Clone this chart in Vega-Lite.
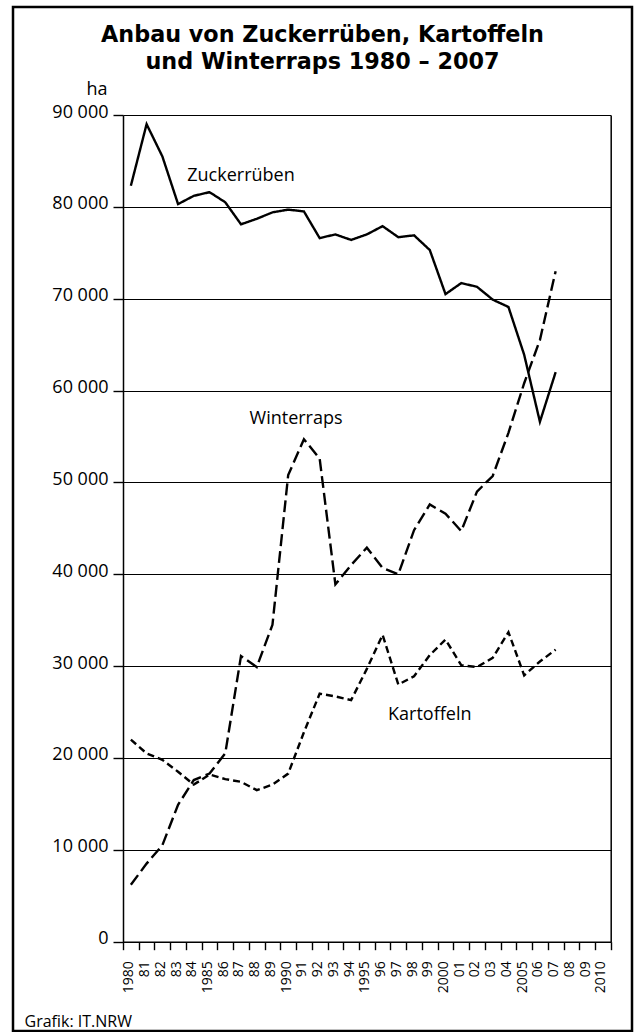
{
  "$schema": "https://vega.github.io/schema/vega-lite/v6.json",
  "width": 619,
  "height": 1024,
  "autosize": {"type": "none"},
  "padding": {"left": 13, "top": 7, "right": 3, "bottom": 1},
  "background": "white",
  "title": {
    "text": ["Anbau von Zuckerrüben, Kartoffeln", "und Winterraps 1980 – 2007"],
    "fontSize": 22.3,
    "fontWeight": "bold",
    "font": "DejaVu Sans",
    "lineHeight": 26.6,
    "anchor": "middle",
    "frame": "group",
    "offset": -66,
    "color": "black"
  },
  "datasets": {
    "crops": [
      {"year": 1980, "series": "Zuckerrüben", "ha": 82300},
      {"year": 1981, "series": "Zuckerrüben", "ha": 89000},
      {"year": 1982, "series": "Zuckerrüben", "ha": 85500},
      {"year": 1983, "series": "Zuckerrüben", "ha": 80300},
      {"year": 1984, "series": "Zuckerrüben", "ha": 81200},
      {"year": 1985, "series": "Zuckerrüben", "ha": 81600},
      {"year": 1986, "series": "Zuckerrüben", "ha": 80500},
      {"year": 1987, "series": "Zuckerrüben", "ha": 78100},
      {"year": 1988, "series": "Zuckerrüben", "ha": 78700},
      {"year": 1989, "series": "Zuckerrüben", "ha": 79400},
      {"year": 1990, "series": "Zuckerrüben", "ha": 79700},
      {"year": 1991, "series": "Zuckerrüben", "ha": 79500},
      {"year": 1992, "series": "Zuckerrüben", "ha": 76600},
      {"year": 1993, "series": "Zuckerrüben", "ha": 77000},
      {"year": 1994, "series": "Zuckerrüben", "ha": 76400},
      {"year": 1995, "series": "Zuckerrüben", "ha": 77000},
      {"year": 1996, "series": "Zuckerrüben", "ha": 77900},
      {"year": 1997, "series": "Zuckerrüben", "ha": 76700},
      {"year": 1998, "series": "Zuckerrüben", "ha": 76900},
      {"year": 1999, "series": "Zuckerrüben", "ha": 75300},
      {"year": 2000, "series": "Zuckerrüben", "ha": 70500},
      {"year": 2001, "series": "Zuckerrüben", "ha": 71700},
      {"year": 2002, "series": "Zuckerrüben", "ha": 71300},
      {"year": 2003, "series": "Zuckerrüben", "ha": 69900},
      {"year": 2004, "series": "Zuckerrüben", "ha": 69100},
      {"year": 2005, "series": "Zuckerrüben", "ha": 63900},
      {"year": 2006, "series": "Zuckerrüben", "ha": 56600},
      {"year": 2007, "series": "Zuckerrüben", "ha": 62000},
      {"year": 1980, "series": "Winterraps", "ha": 6200},
      {"year": 1981, "series": "Winterraps", "ha": 8500},
      {"year": 1982, "series": "Winterraps", "ha": 10500},
      {"year": 1983, "series": "Winterraps", "ha": 14900},
      {"year": 1984, "series": "Winterraps", "ha": 17600},
      {"year": 1985, "series": "Winterraps", "ha": 18300},
      {"year": 1986, "series": "Winterraps", "ha": 20500},
      {"year": 1987, "series": "Winterraps", "ha": 31100},
      {"year": 1988, "series": "Winterraps", "ha": 29900},
      {"year": 1989, "series": "Winterraps", "ha": 34500},
      {"year": 1990, "series": "Winterraps", "ha": 50800},
      {"year": 1991, "series": "Winterraps", "ha": 54700},
      {"year": 1992, "series": "Winterraps", "ha": 52600},
      {"year": 1993, "series": "Winterraps", "ha": 38900},
      {"year": 1994, "series": "Winterraps", "ha": 41000},
      {"year": 1995, "series": "Winterraps", "ha": 42900},
      {"year": 1996, "series": "Winterraps", "ha": 40700},
      {"year": 1997, "series": "Winterraps", "ha": 40000},
      {"year": 1998, "series": "Winterraps", "ha": 44800},
      {"year": 1999, "series": "Winterraps", "ha": 47600},
      {"year": 2000, "series": "Winterraps", "ha": 46600},
      {"year": 2001, "series": "Winterraps", "ha": 44700},
      {"year": 2002, "series": "Winterraps", "ha": 49000},
      {"year": 2003, "series": "Winterraps", "ha": 50700},
      {"year": 2004, "series": "Winterraps", "ha": 55400},
      {"year": 2005, "series": "Winterraps", "ha": 60800},
      {"year": 2006, "series": "Winterraps", "ha": 65500},
      {"year": 2007, "series": "Winterraps", "ha": 73000},
      {"year": 1980, "series": "Kartoffeln", "ha": 22000},
      {"year": 1981, "series": "Kartoffeln", "ha": 20500},
      {"year": 1982, "series": "Kartoffeln", "ha": 19800},
      {"year": 1983, "series": "Kartoffeln", "ha": 18500},
      {"year": 1984, "series": "Kartoffeln", "ha": 17100},
      {"year": 1985, "series": "Kartoffeln", "ha": 18200},
      {"year": 1986, "series": "Kartoffeln", "ha": 17700},
      {"year": 1987, "series": "Kartoffeln", "ha": 17400},
      {"year": 1988, "series": "Kartoffeln", "ha": 16500},
      {"year": 1989, "series": "Kartoffeln", "ha": 17100},
      {"year": 1990, "series": "Kartoffeln", "ha": 18300},
      {"year": 1991, "series": "Kartoffeln", "ha": 22800},
      {"year": 1992, "series": "Kartoffeln", "ha": 27000},
      {"year": 1993, "series": "Kartoffeln", "ha": 26700},
      {"year": 1994, "series": "Kartoffeln", "ha": 26300},
      {"year": 1995, "series": "Kartoffeln", "ha": 29700},
      {"year": 1996, "series": "Kartoffeln", "ha": 33400},
      {"year": 1997, "series": "Kartoffeln", "ha": 28000},
      {"year": 1998, "series": "Kartoffeln", "ha": 28900},
      {"year": 1999, "series": "Kartoffeln", "ha": 31200},
      {"year": 2000, "series": "Kartoffeln", "ha": 32900},
      {"year": 2001, "series": "Kartoffeln", "ha": 30100},
      {"year": 2002, "series": "Kartoffeln", "ha": 29900},
      {"year": 2003, "series": "Kartoffeln", "ha": 30900},
      {"year": 2004, "series": "Kartoffeln", "ha": 33700},
      {"year": 2005, "series": "Kartoffeln", "ha": 29000},
      {"year": 2006, "series": "Kartoffeln", "ha": 30500},
      {"year": 2007, "series": "Kartoffeln", "ha": 31800}
    ],
    "labels": [
      {"year": 1987, "ha": 82800, "label": "Zuckerrüben"},
      {"year": 1999, "ha": 24100, "label": "Kartoffeln"},
      {"year": 1991, "ha": 56400, "label": "Winterraps"}
    ]
  },
  "layer": [
    {
      "data": {"name": "crops"},
      "mark": {"type": "line", "color": "black", "strokeWidth": 2.4, "strokeJoin": "miter"},
      "encoding": {
        "x": {
          "field": "year",
          "type": "ordinal",
          "bandPosition": 0.5,
          "scale": {
            "type": "band",
            "domain": [1980, 1981, 1982, 1983, 1984, 1985, 1986, 1987, 1988, 1989, 1990, 1991, 1992, 1993, 1994, 1995, 1996, 1997, 1998, 1999, 2000, 2001, 2002, 2003, 2004, 2005, 2006, 2007, 2008, 2009, 2010],
            "range": [110, 597.7],
            "paddingInner": 0,
            "paddingOuter": 0
          },
          "axis": {
            "orient": "bottom",
            "offset": -89.3,
            "tickBand": "extent",
            "grid": false,
            "tickSize": 8,
            "tickWidth": 1.4,
            "tickColor": "black",
            "domainColor": "black",
            "domainWidth": 1.5,
            "labelAngle": 270,
            "labelAlign": "right",
            "labelBaseline": "middle",
            "labelFontSize": 14,
            "labelPadding": 11,
            "labelOffset": -2,
            "labelColor": "black",
            "labelOverlap": false,
            "labelFlush": false,
            "labelExpr": "isValid(datum.value) ? (datum.value % 5 == 0 ? '' + datum.value : substring('' + datum.value, 2)) : ''",
            "title": "Grafik: IT.NRW",
            "titleAlign": "left",
            "titleBaseline": "alphabetic",
            "titleAnchor": "start",
            "titleX": 11,
            "titleY": 84.3,
            "titleFontSize": 16,
            "titleFontWeight": "normal",
            "titleColor": "black"
          }
        },
        "y": {
          "field": "ha",
          "type": "quantitative",
          "scale": {"domain": [0, 90000], "range": [934.7, 108], "nice": false, "zero": false},
          "axis": {
            "orient": "left",
            "offset": -110,
            "values": [0, 10000, 20000, 30000, 40000, 50000, 60000, 70000, 80000, 90000],
            "grid": true,
            "gridColor": "black",
            "gridWidth": 1.2,
            "gridOpacity": 1,
            "tickSize": 10,
            "tickWidth": 1.4,
            "tickColor": "black",
            "domainColor": "black",
            "domainWidth": 1.5,
            "labelPadding": 5,
            "labelFontSize": 18,
            "labelColor": "black",
            "labelBaseline": "middle",
            "labelOffset": -3,
            "labelExpr": "replace(format(datum.value, ','), ',', ' ')",
            "title": "ha",
            "titleAngle": 0,
            "titleAlign": "right",
            "titleBaseline": "alphabetic",
            "titleX": -16,
            "titleY": 87,
            "titleFontSize": 18,
            "titleFontWeight": "normal",
            "titleColor": "black"
          }
        },
        "strokeDash": {
          "field": "series",
          "type": "nominal",
          "scale": {"domain": ["Zuckerrüben", "Winterraps", "Kartoffeln"], "range": [[1, 0], [12, 5], [7, 4]]},
          "legend": null
        }
      }
    },
    {
      "data": {"name": "labels"},
      "transform": [{"filter": "datum.label != 'Winterraps'"}],
      "mark": {"type": "text", "fontSize": 18, "align": "center", "baseline": "alphabetic", "color": "black", "font": "Open Sans"},
      "encoding": {
        "x": {"field": "year", "type": "ordinal", "bandPosition": 0.5},
        "y": {"field": "ha", "type": "quantitative", "axis": null},
        "text": {"field": "label"}
      }
    },
    {
      "data": {"name": "labels"},
      "transform": [{"filter": "datum.label == 'Winterraps'"}],
      "mark": {"type": "text", "fontSize": 18, "align": "center", "baseline": "alphabetic", "color": "black", "font": "Open Sans"},
      "encoding": {
        "x": {"field": "year", "type": "ordinal", "bandPosition": 0},
        "y": {
          "field": "ha",
          "type": "quantitative",
          "axis": {"orient": "right", "offset": -21.3, "labels": false, "ticks": false, "grid": false, "title": null, "domainColor": "black", "domainWidth": 1.5}
        },
        "text": {"field": "label"}
      }
    }
  ],
  "resolve": {"axis": {"y": "independent"}},
  "config": {
    "font": "Open Sans",
    "view": {"stroke": "black", "strokeWidth": 2.5},
    "axis": {"labelFont": "Open Sans", "titleFont": "Open Sans"}
  }
}
